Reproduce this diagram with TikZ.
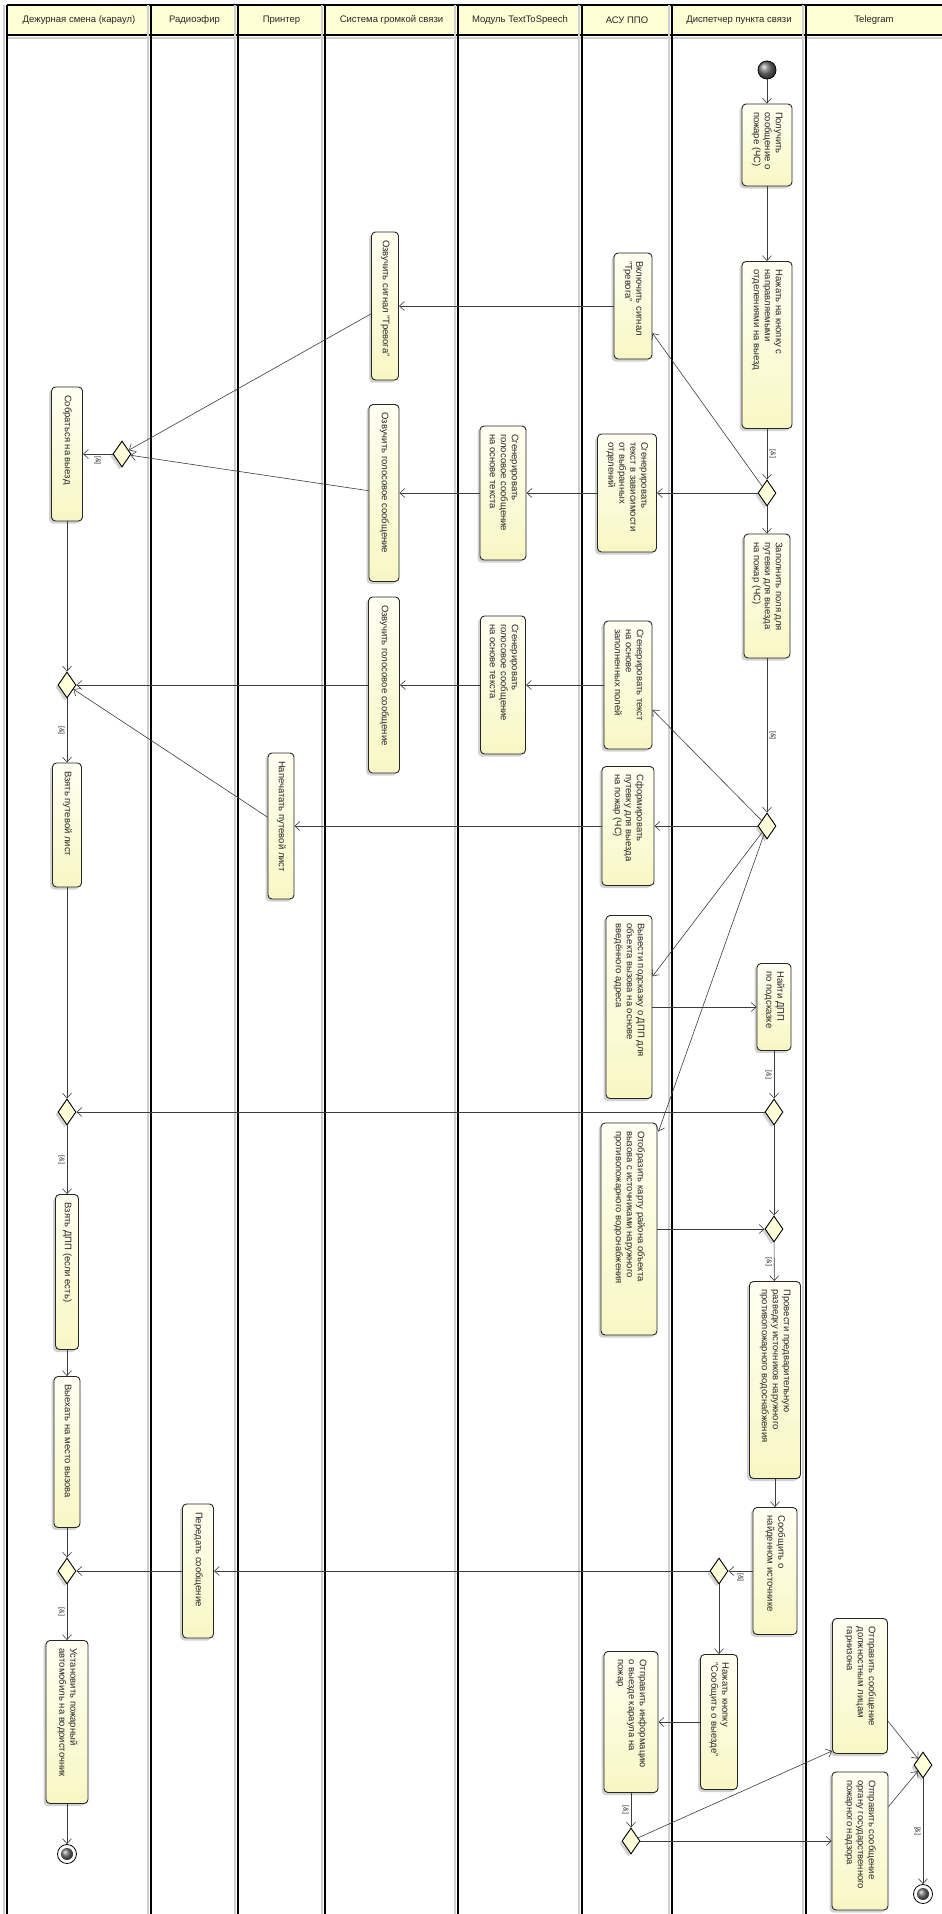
\documentclass[tikz,border=0pt]{standalone}
\usepackage{fontspec}
\setmainfont{Liberation Sans}
\usetikzlibrary{arrows.meta,shapes.geometric,shadows,calc}

\definecolor{laneHead}{RGB}{255,255,214}
\definecolor{actTop}{RGB}{255,255,242}
\definecolor{actBottom}{RGB}{247,247,196}
\definecolor{decFill}{RGB}{255,255,218}
\definecolor{flowColor}{RGB}{60,60,60}
\definecolor{laneShade}{RGB}{208,208,208}

% vertical text: length of the line box, rows
\newcommand{\vtxt}[2]{\rotatebox{-90}{\hbox to #1pt{\begin{tabular}{@{}l@{}}#2\end{tabular}\hss}}}
\newcommand{\grd}{\rotatebox{-90}{[\&]}}

\tikzset{
  act/.style={draw=black!85, line width=0.9pt, rounded corners=4pt, inner sep=0pt,
    top color=actTop, bottom color=actBottom, text=black!85,
    font=\fontsize{9.5}{11}\selectfont,
    drop shadow={shadow xshift=-2.5pt, shadow yshift=-2.5pt, fill=black!35, opacity=0.5}},
  dec/.style={diamond, draw=black, line width=0.9pt, fill=decFill, inner sep=0pt,
    minimum width=18, minimum height=26,
    drop shadow={shadow xshift=-2.5pt, shadow yshift=-2.5pt, fill=black!35, opacity=0.5}},
  startNode/.style={circle, draw=black, line width=0.8pt, minimum size=18, ball color=black!55},
  finalNode/.style={circle, draw=black, line width=0.8pt, minimum size=19, fill=white},
  flow/.style={draw=flowColor, line width=0.6pt, -{Straight Barb[length=5pt,width=9pt]}},
  guard/.style={font=\fontsize{7}{8}\selectfont, inner sep=2pt, text=black!80},
  lane/.style={line width=1.3pt},
  laneGray/.style={draw=laneShade, line width=2pt},
  head/.style={font=\fontsize{9.5}{11}\selectfont, text=black!85},
}

\begin{document}
\begin{tikzpicture}[x=1pt,y=-1pt]
  \fill[white] (0,0) rectangle (942,1914);
  \useasboundingbox (0,0) rectangle (942,1914);
  % Lanes
  \fill[laneHead] (7,5) rectangle (942,35);
  \draw[laneGray] (7,38) -- (942,38);
  \draw[lane] (7,5) -- (942,5);
  \draw[lane] (7,35) -- (942,35);
  \draw[laneGray] (3.5,5) -- (3.5,1914);
  \draw[lane] (7,5) -- (7,1914);
  \draw[laneGray] (147.5,5) -- (147.5,1914);
  \draw[lane] (151,5) -- (151,1914);
  \draw[laneGray] (234.5,5) -- (234.5,1914);
  \draw[lane] (238,5) -- (238,1914);
  \draw[laneGray] (321.5,5) -- (321.5,1914);
  \draw[lane] (325,5) -- (325,1914);
  \draw[laneGray] (454.5,5) -- (454.5,1914);
  \draw[lane] (458,5) -- (458,1914);
  \draw[laneGray] (578.5,5) -- (578.5,1914);
  \draw[lane] (582,5) -- (582,1914);
  \draw[laneGray] (668.5,5) -- (668.5,1914);
  \draw[lane] (672,5) -- (672,1914);
  \draw[laneGray] (802.5,5) -- (802.5,1914);
  \draw[lane] (806,5) -- (806,1914);
  \node[head] (h1) at (79,20) {Дежурная смена (караул)};
  \node[head] (h2) at (194.5,20) {Радиоэфир};
  \node[head] (h3) at (281.5,20) {Принтер};
  \node[head] (h4) at (391.5,20) {Система громкой связи};
  \node[head] (h5) at (520,20) {Модуль TextToSpeech};
  \node[head] (h6) at (627,20) {АСУ ППО};
  \node[head] (h7) at (739,20) {Диспетчер пункта связи};
  \node[head] (h8) at (874,20) {Telegram};

  % Диспетчер пункта связи
  \node[startNode] (s0) at (767,70) {};
  \node[act, minimum width=50, minimum height=82] (n1) at (767,145) {\vtxt{66}{Получить\\сообщение о\\пожаре (ЧС)}};
  \node[act, minimum width=50, minimum height=167] (n2) at (767,345) {\vtxt{151}{Нажать на кнопку с\\направляемыми\\отделениями на выезд}};
  \node[dec] (d1) at (767,493) {};
  \node[act, minimum width=46, minimum height=124] (n9) at (767,596) {\vtxt{108}{Заполнить поля для\\путевки для выезда\\на пожар (ЧС)}};
  \node[dec] (d2) at (767,826) {};
  \node[act, minimum width=34, minimum height=87] (n17) at (774,1007) {\vtxt{71}{Найти ДПП\\по подсказке}};
  \node[dec] (dC) at (774,1112) {};
  \node[dec] (dE) at (774,1229) {};
  \node[act, minimum width=51, minimum height=197] (n19) at (775,1380) {\vtxt{181}{Провести предварительную\\разведку источников наружного\\противопожарного водоснабжения}};
  \node[act, minimum width=44, minimum height=127] (n22) at (775,1571) {\vtxt{111}{Сообщить о\\найденном источнике}};
  \node[dec] (dG) at (719,1571) {};
  \node[act, minimum width=37, minimum height=135] (n24) at (719,1722) {\vtxt{119}{Нажать кнопку\\"Сообщить о выезде"}};

  % АСУ ППО
  \node[act, minimum width=38, minimum height=106] (n3) at (633,306) {\vtxt{90}{Включить сигнал\\"Тревога"}};
  \node[act, minimum width=59, minimum height=118] (n5) at (627,493) {\vtxt{102}{Сгенерировать\\текст в зависимости\\от выбранных\\отделений}};
  \node[act, minimum width=48, minimum height=128] (n10) at (628,685) {\vtxt{112}{Сгенерировать текст\\на основе\\заполненных полей}};
  \node[act, minimum width=52, minimum height=119] (n13) at (628,826) {\vtxt{103}{Сформировать\\путевку для выезда\\на пожар (ЧС)}};
  \node[act, minimum width=46, minimum height=183] (n16) at (629,1007) {\vtxt{167}{Вывести подсказку о ДПП для\\объекта вызова на основе\\введённого адреса}};
  \node[act, minimum width=56, minimum height=212] (n18) at (629,1229) {\vtxt{196}{Отобразить карту района объекта\\вызова с источниками наружного\\противопожарного водоснабжения}};
  \node[act, minimum width=54, minimum height=141] (n25) at (631,1722) {\vtxt{125}{Отправить информацию\\о выезде караула на\\пожар}};
  \node[dec] (dH) at (631,1841) {};

  % Модуль TextToSpeech
  \node[act, minimum width=46, minimum height=134] (n6) at (503,493) {\vtxt{118}{Сгенерировать\\голосовое сообщение\\на основе текста}};
  \node[act, minimum width=45, minimum height=138] (n11) at (503,685) {\vtxt{122}{Сгенерировать\\голосовое сообщение\\на основе текста}};

  % Система громкой связи
  \node[act, minimum width=27, minimum height=148] (n4) at (385,306) {\vtxt{132}{Озвучить сигнал "Тревога"}};
  \node[act, minimum width=30, minimum height=177] (n7) at (384,493) {\vtxt{161}{Озвучить голосовое сообщение}};
  \node[act, minimum width=31, minimum height=176] (n12) at (384,685) {\vtxt{160}{Озвучить голосовое сообщение}};

  % Принтер, Радиоэфир
  \node[act, minimum width=26, minimum height=146] (n14) at (281,826) {\vtxt{130}{Напечатать путевой лист}};
  \node[act, minimum width=31, minimum height=134] (n23) at (198,1571) {\vtxt{118}{Передать сообщение}};

  % Дежурная смена (караул)
  \node[dec] (dA) at (122,454) {};
  \node[act, minimum width=31, minimum height=134] (n8) at (67,454) {\vtxt{118}{Собраться на выезд}};
  \node[dec] (dB) at (67,685) {};
  \node[act, minimum width=29, minimum height=124] (n15) at (67,825) {\vtxt{108}{Взять путевой лист}};
  \node[dec] (dD) at (67,1112) {};
  \node[act, minimum width=23, minimum height=155] (n20) at (67,1272) {\vtxt{139}{Взять ДПП (если есть)}};
  \node[act, minimum width=26, minimum height=151] (n21) at (67,1452) {\vtxt{135}{Выехать на место вызова}};
  \node[dec] (dF) at (67,1571) {};
  \node[act, minimum width=42, minimum height=163] (n26) at (67,1722) {\vtxt{147}{Установить пожарный\\автомобиль на водоисточник}};
  \node[finalNode] (e1) at (67,1854) {};
  \shade[ball color=black!55] (e1.center) circle[radius=6pt];

  % Telegram
  \node[act, minimum width=55, minimum height=135] (n27) at (860,1686) {\vtxt{119}{Отправить сообщение\\должностным лицам\\гарнизона}};
  \node[act, minimum width=56, minimum height=138] (n28) at (860,1841) {\vtxt{122}{Отправить сообщение\\органу государственного\\пожарного надзора}};
  \node[dec] (dI) at (923,1765) {};
  \node[finalNode] (e2) at (923,1894) {};
  \shade[ball color=black!55] (e2.center) circle[radius=6pt];

  % Flows
  \draw[flow] (s0) -- (n1);
  \draw[flow] (n1) -- (n2);
  \draw[flow] (n2) -- node[guard, right]{\grd} (d1);
  \draw[flow] (d1) -- (n9);
  \draw[flow] (d1) -- (n3);
  \draw[flow] (d1) -- (n5);
  \draw[flow] (n3) -- (n4);
  \draw[flow] (n5) -- (n6);
  \draw[flow] (n6) -- (n7);
  \draw[flow] (n4) -- (dA);
  \draw[flow] (n7) -- (dA);
  \draw[flow] (dA) -- node[guard, below]{\grd} (n8);
  \draw[flow] (n9) -- node[guard, right]{\grd} (d2);
  \draw[flow] (d2) -- (n10);
  \draw[flow] (d2) -- (n13);
  \draw[flow] (d2) -- (n16);
  \draw[flow] (d2) -- ($(n18.north east)+(1,9)$);
  \draw[flow] (n10) -- (n11);
  \draw[flow] (n11) -- (n12);
  \draw[flow] (n12) -- (dB);
  \draw[flow] (n13) -- (n14);
  \draw[flow] (n14) -- (dB);
  \draw[flow] (n8) -- (dB);
  \draw[flow] (dB) -- node[guard, left]{\grd} (n15);
  \draw[flow] (n16) -- (n17);
  \draw[flow] (n17) -- node[guard, left]{\grd} (dC);
  \draw[flow] (dC) -- (dD);
  \draw[flow] (dC) -- (dE);
  \draw[flow] (n18) -- (dE);
  \draw[flow] (dE) -- node[guard, left]{\grd} (n19);
  \draw[flow] (n15) -- (dD);
  \draw[flow] (dD) -- node[guard, left]{\grd} (n20);
  \draw[flow] (n20) -- (n21);
  \draw[flow] (n21) -- (dF);
  \draw[flow] (n19) -- (n22);
  \draw[flow] (n22) -- node[guard, below]{\grd} (dG);
  \draw[flow] (dG) -- (n23);
  \draw[flow] (n23) -- (dF);
  \draw[flow] (dF) -- node[guard, left]{\grd} (n26);
  \draw[flow] (n26) -- (e1);
  \draw[flow] (dG) -- (n24);
  \draw[flow] (n24) -- (n25);
  \draw[flow] (n25) -- node[guard, left]{\grd} (dH);
  \draw[flow] (dH) -- ($(n27.south west)+(0,-3)$);
  \draw[flow] (dH) -- (n28);
  \draw[flow] (n27) -- (dI);
  \draw[flow] (n28) -- (dI);
  \draw[flow] (dI) -- node[guard, left]{\grd} (e2);
\end{tikzpicture}
\end{document}
